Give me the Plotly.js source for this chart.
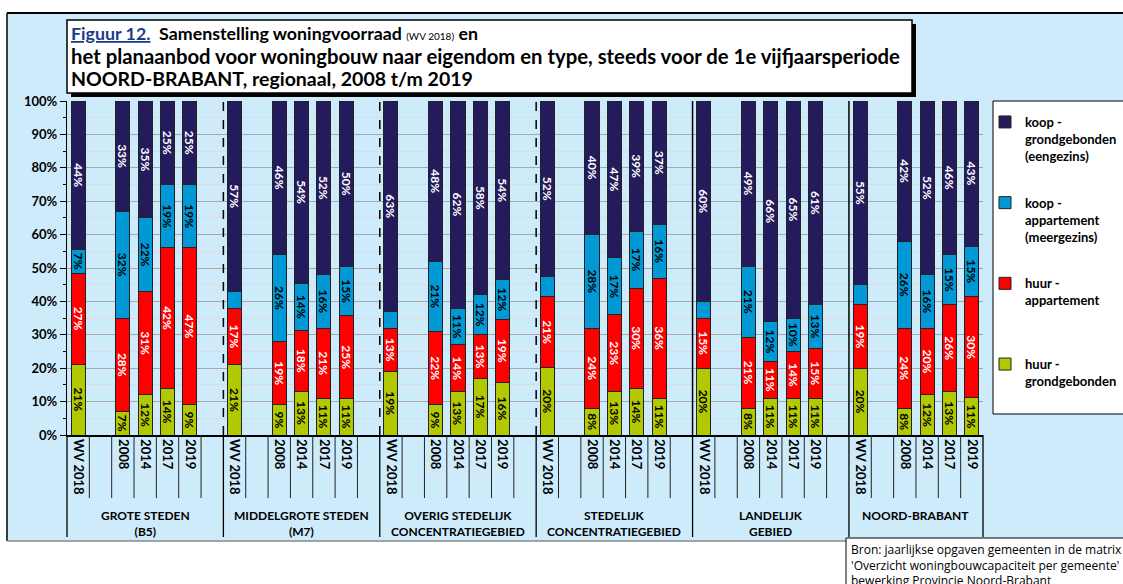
<!DOCTYPE html>
<html><head><meta charset="utf-8">
<script src="https://cdn.plot.ly/plotly-3.0.1.min.js"></script>
<style>html,body{margin:0;padding:0;background:#fff;overflow:hidden}#chart{width:1123px;height:584px}</style>
</head><body><div id="chart"></div>
<script>
// ---- DATA ----
const regions = ['GROTE STEDEN<br>(B5)', 'MIDDELGROTE STEDEN<br>(M7)', 'OVERIG STEDELIJK<br>CONCENTRATIEGEBIED',
                 'STEDELIJK<br>CONCENTRATIEGEBIED', 'LANDELIJK<br>GEBIED', 'NOORD-BRABANT'];
const periods = ['WV 2018', '2008', '2014', '2017', '2019'];
const seriesNames = ['huur -<br>grondgebonden', 'huur -<br>appartement<br>&nbsp;', 'koop -<br>appartement<br>(meergezins)', 'koop -<br>grondgebonden<br>(eengezins)'];
// per region: WV 2018, 2008, 2014, 2017, 2019 (percent)
const huurGrond  = [21, 7,12,14, 9,  21, 9,13,11,11,  19, 9,13,17,16,  20, 8,13,14,11,  20, 8,11,11,11,  20, 8,12,13,11];
const huurApp    = [27,28,31,42,47,  17,19,18,21,25,  13,22,14,13,19,  21,24,23,30,36,  15,21,11,14,15,  19,24,20,26,30];
const koopApp    = [ 7,32,22,19,19,   5,26,14,16,15,   5,21,11,12,12,   6,28,17,17,16,   5,21,12,10,13,   6,26,16,15,15];
const koopGrond  = [44,33,35,25,25,  57,46,54,52,50,  63,48,62,58,54,  52,40,47,39,37,  60,49,66,65,61,  55,42,52,46,43];
const koopAppLabelShown = [1,1,1,1,1, 0,1,1,1,1, 0,1,1,1,1, 0,1,1,1,1, 0,1,1,1,1, 0,1,1,1,1];
const titleLines = [
  '<span style="color:#1a3a8c"><u>Figuur 12.</u></span>  Samenstelling woningvoorraad <span style="font-size:10px;font-weight:normal">(WV 2018)</span> en',
  'het planaanbod voor woningbouw naar eigendom en type, steeds voor de 1e vijfjaarsperiode',
  'NOORD-BRABANT, regionaal, 2008 t/m 2019'
];
const sourceText = "Bron: jaarlijkse opgaven gemeenten in de matrix<br>'Overzicht woningbouwcapaciteit per gemeente'<br>bewerking Provincie Noord-Brabant";

// ---- STYLE ----
const colors = ['#b2c800', '#ff0000', '#0098d5', '#241b5c'];
const textColors = ['#000', '#fff', '#000', '#fff'];
const FONT = 'Lato, "Open Sans", sans-serif';
const L = 67, R = 983, T = 101, B = 435;
const px = x => (x - L) / (R - L);
const py = y => (B - y) / (B - T);

// ---- slots: WV 2018, gap, 2008, 2014, 2017, 2019, gap ----
const cats = [], slotRegion = [], slotPeriod = [];
regions.forEach((reg, gi) => {
  const slots = [0, -1, 1, 2, 3, 4];
  if (gi < regions.length - 1) slots.push(-1);
  slots.forEach((p, si) => { cats.push('g' + gi + 's' + si); slotRegion.push(gi); slotPeriod.push(p); });
});
const N = cats.length;

function build(vals, shown) {
  const y = [], t = [];
  cats.forEach((c, i) => {
    const p = slotPeriod[i];
    if (p < 0) { y.push(null); t.push(''); return; }
    const k = slotRegion[i] * periods.length + p;
    y.push(vals[k]);
    t.push(shown && !shown[k] ? '' : vals[k] + '%');
  });
  return { y, t };
}
const allSeries = [[huurGrond, null], [huurApp, null], [koopApp, koopAppLabelShown], [koopGrond, null]];
const traces = allSeries.map((s, j) => {
  const b = build(s[0], s[1]);
  return {
    type: 'bar', x: cats, y: b.y, text: b.t, name: seriesNames[j], legendgroup: 'g' + j, legendrank: 4 - j,
    textposition: 'inside', insidetextanchor: 'middle', textangle: 90, constraintext: 'none',
    insidetextfont: { family: FONT, size: 12, color: textColors[j], weight: 700 },
    marker: { color: colors[j], line: { color: '#222', width: 1 } },
    hoverinfo: 'skip'
  };
});

const tickvals = [], ticktext = [];
cats.forEach((c, i) => { if (slotPeriod[i] >= 0) { tickvals.push(c); ticktext.push(periods[slotPeriod[i]]); } });

// ---- shapes ----
const shapes = [];
shapes.push({ type: 'rect', xref: 'paper', yref: 'paper', x0: px(7), x1: px(1130), y0: py(541), y1: py(13), fillcolor: '#cdebfb', line: { width: 0 }, layer: 'below' });
shapes.push({ type: 'line', xref: 'paper', yref: 'paper', x0: px(7), x1: px(1130), y0: py(13), y1: py(13), line: { color: '#000', width: 2 } });
shapes.push({ type: 'line', xref: 'paper', yref: 'paper', x0: px(7), x1: px(7), y0: py(13), y1: py(541), line: { color: '#000', width: 1.5 } });
shapes.push({ type: 'line', xref: 'paper', yref: 'paper', x0: px(7), x1: px(846), y0: py(541), y1: py(541), line: { color: '#888', width: 1.5 } });
shapes.push({ type: 'rect', xref: 'paper', yref: 'paper', x0: px(71), x1: px(916), y0: py(97), y1: py(24), fillcolor: '#000', line: { width: 0 } });
shapes.push({ type: 'rect', xref: 'paper', yref: 'paper', x0: px(67), x1: px(912), y0: py(93), y1: py(20), fillcolor: '#fff', line: { color: '#000', width: 1.5 } });
shapes.push({ type: 'rect', xref: 'paper', yref: 'paper', x0: px(993), x1: px(1135), y0: py(414), y1: py(101), fillcolor: '#fff', line: { color: '#000', width: 1 } });
shapes.push({ type: 'rect', xref: 'paper', yref: 'paper', x0: px(846), x1: px(1135), y0: py(600), y1: py(538), fillcolor: '#fff', line: { color: '#000', width: 1 } });
const groupStarts = [];
cats.forEach((c, i) => { if (i === 0 || slotRegion[i] !== slotRegion[i - 1]) groupStarts.push(i); });
for (let i = 0; i <= N; i++) {
  const isGroup = groupStarts.includes(i) || i === N;
  const xp = i / N;
  shapes.push({ type: 'line', xref: 'paper', yref: 'paper', x0: xp, x1: xp, y0: 0, y1: py(isGroup ? 537 : 498), line: { color: isGroup ? '#000' : '#222', width: isGroup ? 1.3 : 1 } });
}
groupStarts.slice(1).forEach((s, k) => {
  const xp = s / N;
  shapes.push({ type: 'line', xref: 'paper', yref: 'paper', x0: xp, x1: xp, y0: 0, y1: 1, line: { color: '#000', width: 1.5, dash: k < 3 ? 'dash' : 'solid' } });
});

// ---- annotations ----
const annotations = [];
regions.forEach((reg, gi) => {
  const idx = cats.map((c, i) => i).filter(i => slotRegion[i] === gi);
  const xc = (idx[0] + idx[idx.length - 1] + 1) / 2 / N;
  annotations.push({ xref: 'paper', yref: 'paper', x: xc, y: py(506), xanchor: 'center', yanchor: 'top', showarrow: false,
    text: reg, align: 'center', font: { family: FONT, size: 12, color: '#000', weight: 700 } });
});
const titleY = [33, 56, 78], titleSize = [17.8, 20.3, 19.5];
titleLines.forEach((t, k) => {
  annotations.push({ xref: 'paper', yref: 'paper', x: px(69), y: py(titleY[k]), xanchor: 'left', yanchor: 'middle', showarrow: false, align: 'left',
    text: t, font: { family: FONT, size: titleSize[k], color: '#000', weight: 700 } });
});
annotations.push({ xref: 'paper', yref: 'paper', x: px(849), y: py(539), xanchor: 'left', yanchor: 'top', showarrow: false, align: 'left',
  text: sourceText, font: { family: '"Open Sans", sans-serif', size: 12, color: '#000' } });

const layout = {
  width: 1123, height: 584,
  margin: { l: L, r: 1123 - R, t: T, b: 584 - B, pad: 0, autoexpand: false },
  paper_bgcolor: '#fff', plot_bgcolor: '#fff',
  barmode: 'stack', barnorm: 'fraction', bargap: 0.37,
  font: { family: FONT, color: '#000' },
  xaxis: { type: 'category', categoryorder: 'array', categoryarray: cats, range: [-0.5, N - 0.5],
    tickvals: tickvals, ticktext: ticktext, tickangle: 90, ticks: '', showgrid: false,
    showline: true, linecolor: '#000', linewidth: 1.5, automargin: false, fixedrange: true,
    tickfont: { family: FONT, size: 13, color: '#000', weight: 700 } },
  yaxis: { range: [0, 1], tickformat: '.0%', tick0: 0, dtick: 0.1, ticks: 'outside', ticklen: 6, tickcolor: '#000',
    showline: true, linecolor: '#000', linewidth: 1.2, gridcolor: '#a8a8a8', gridwidth: 1, zeroline: false,
    automargin: false, fixedrange: true,
    minor: { dtick: 0.05, ticks: 'outside', ticklen: 3, tickcolor: '#000', showgrid: true, gridcolor: '#dcdcdc', gridwidth: 1 },
    tickfont: { family: FONT, size: 13, color: '#000', weight: 700 } },
  legend: { x: px(985), y: py(107), xanchor: 'left', yanchor: 'top', bgcolor: 'rgba(0,0,0,0)', borderwidth: 0,
    traceorder: 'grouped', tracegroupgap: 27, valign: 'top',
    font: { family: FONT, size: 13, color: '#000', weight: 700 } },
  shapes: shapes, annotations: annotations, showlegend: true
};
Plotly.newPlot('chart', traces, layout, { displayModeBar: false, staticPlot: true });
</script></body></html>
